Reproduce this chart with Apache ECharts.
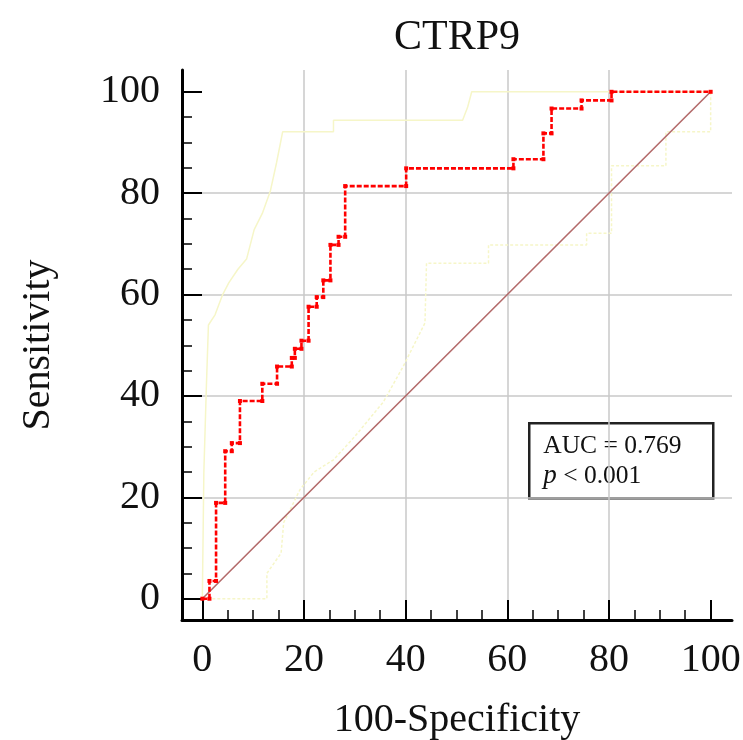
<!DOCTYPE html>
<html>
<head>
<meta charset="utf-8">
<script src="https://cdn.jsdelivr.net/npm/echarts@6/dist/echarts.min.js"></script>
<style>
  html, body { margin: 0; padding: 0; background: #ffffff; }
  #chart { width: 743px; height: 740px; }
</style>
</head>
<body>
<div id="chart"></div>
<script>
// ---- Data ----
const chartTitle = 'CTRP9';
const xAxisTitle = '100-Specificity';
const yAxisTitle = 'Sensitivity';
const majorTicks = [0, 20, 40, 60, 80, 100];
const minorTicks = [5, 10, 15, 25, 30, 35, 45, 50, 55, 65, 70, 75, 85, 90, 95];

// ROC curve (100-Specificity, Sensitivity)
const rocX = [0, 1.4, 1.4, 2.7, 2.7, 4.5, 4.5, 5.8, 5.8, 7.4, 7.4, 11.8, 11.8, 14.7, 14.7, 17.6, 17.6, 18.2, 18.2, 19.5, 19.5, 20.9, 20.9, 22.5, 22.5, 23.8, 23.8, 25.2, 25.2, 26.8, 26.8, 28.1, 28.1, 40.1, 40.1, 61.2, 61.2, 67.1, 67.1, 68.7, 68.7, 74.6, 74.6, 80.5, 80.5, 100];
const rocY = [0, 0, 3.5, 3.5, 18.9, 18.9, 29.1, 29.1, 30.7, 30.7, 39.0, 39.0, 42.4, 42.4, 45.8, 45.8, 47.5, 47.5, 49.3, 49.3, 50.9, 50.9, 57.6, 57.6, 59.5, 59.5, 62.8, 62.8, 69.8, 69.8, 71.4, 71.4, 81.4, 81.4, 84.9, 84.9, 86.7, 86.7, 91.8, 91.8, 96.7, 96.7, 98.3, 98.3, 100, 100];

// Upper 95% confidence bound
const upperX = [0, 0.3, 0.8, 1.2, 2.5, 4.0, 5.2, 7.0, 8.7, 10.2, 11.8, 13.4, 14.6, 15.8, 25.8, 25.8, 51.2, 52.2, 53.0, 100];
const upperY = [0, 25, 42, 54, 56, 60, 62.3, 65, 67, 72.8, 76, 80.5, 86, 92.1, 92.1, 94.4, 94.4, 97, 100, 100];

// Lower 95% confidence bound
const lowerX = [0, 12.7, 12.7, 15.5, 16.0, 19.2, 22.0, 25.8, 30.0, 35.6, 39.5, 43.8, 44.1, 56.3, 56.3, 75.6, 75.6, 80.5, 80.5, 91.2, 91.2, 100, 100];
const lowerY = [0, 0, 5, 9, 15, 21.5, 25, 27.4, 32, 38.8, 45.8, 54.4, 66.2, 66.2, 69.8, 69.8, 72.1, 72.1, 85.4, 85.4, 92.1, 92.1, 100];

// Reference (chance) line
const diagX = [0, 100];
const diagY = [0, 100];

const aucText = 'AUC = 0.769';
const pText = '< 0.001';

// ---- Build ----
const zip = (xs, ys) => xs.map((x, i) => [x, ys[i]]);
const FONT = 'Liberation Serif';
const gridColor = '#c9c9c9';
const ciColor = '#f6f6c8';

const xMin = -4, xMax = 104.2, yMin = -4.2, yMax = 104.3;

function mainAxis(isX) {
  return {
    type: 'value',
    min: isX ? xMin : yMin,
    max: isX ? xMax : yMax,
    position: isX ? 'bottom' : 'left',
    name: isX ? xAxisTitle : yAxisTitle,
    nameLocation: 'middle',
    nameGap: isX ? 80 : 124,
    nameRotate: isX ? 0 : 90,
    nameTextStyle: { fontFamily: FONT, fontSize: 40, color: '#111' },
    axisLine: { show: true, onZero: false, lineStyle: { color: '#000', width: 3 } },
    axisTick: { show: true, inside: true, length: 20, customValues: majorTicks, lineStyle: { color: '#000', width: 2 } },
    axisLabel: { show: true, customValues: majorTicks, margin: isX ? 20 : 22, fontFamily: FONT, fontSize: 40, color: '#111' },
    splitLine: { show: true, showMinLine: false, showMaxLine: false, lineStyle: { color: gridColor, width: 1.5 } }
  };
}
function minorAxis(isX) {
  return {
    type: 'value',
    min: isX ? xMin : yMin,
    max: isX ? xMax : yMax,
    position: isX ? 'bottom' : 'left',
    offset: 0,
    axisLine: { show: false, onZero: false },
    axisTick: { show: true, inside: true, length: 10, customValues: minorTicks, lineStyle: { color: '#000', width: 1.5 } },
    axisLabel: { show: false, customValues: minorTicks },
    splitLine: { show: false }
  };
}

const chart = echarts.init(document.getElementById('chart'), null, { renderer: 'canvas' });
chart.setOption({
  backgroundColor: '#ffffff',
  animation: false,
  title: {
    text: chartTitle,
    left: 452,
    top: 12,
    textAlign: 'center',
    textStyle: { fontFamily: FONT, fontSize: 42, fontWeight: 'normal', color: '#111' }
  },
  grid: { left: 182, right: 11, top: 70, bottom: 120, containLabel: false, outerBoundsMode: 'none' },
  xAxis: [mainAxis(true), minorAxis(true)],
  yAxis: [mainAxis(false), minorAxis(false)],
  series: [
    {
      name: 'Upper CI', type: 'line', data: zip(upperX, upperY), showSymbol: false, symbol: 'none',
      lineStyle: { color: ciColor, width: 1.5 }, z: 2, silent: true
    },
    {
      name: 'Lower CI', type: 'line', data: zip(lowerX, lowerY), showSymbol: false, symbol: 'none',
      lineStyle: { color: ciColor, width: 1.5, type: [3, 2] }, z: 2, silent: true
    },
    {
      name: 'Reference', type: 'line', data: zip(diagX, diagY), symbol: 'none',
      lineStyle: { color: '#b36a6a', width: 1.6 }, z: 3, silent: true
    },
    {
      name: 'ROC', type: 'line', data: zip(rocX, rocY), symbol: 'rect', symbolSize: 4, showAllSymbol: true,
      itemStyle: { color: '#ff0000' },
      lineStyle: { color: '#ff0000', width: 2.6, type: [5, 2] }, z: 4
    }
  ],
  graphic: [
    {
      type: 'group', left: 528, top: 422,
      children: [
        { type: 'rect', shape: { x: 0, y: 0, width: 184, height: 75 },
          style: { fill: '#ffffff', stroke: '#222', lineWidth: 2.5 } },
        { type: 'text', x: 14, y: 23,
          style: { text: aucText, fontFamily: FONT, fontSize: 25.5, fill: '#111', verticalAlign: 'middle' } },
        { type: 'text', x: 14, y: 53,
          style: { text: '{i|p} ' + pText, fontFamily: FONT, fontSize: 25.5, fill: '#111', verticalAlign: 'middle',
                   rich: { i: { fontStyle: 'italic', fontFamily: FONT, fontSize: 27, fill: '#111' } } } }
      ]
    }
  ]
});
</script>
</body>
</html>
